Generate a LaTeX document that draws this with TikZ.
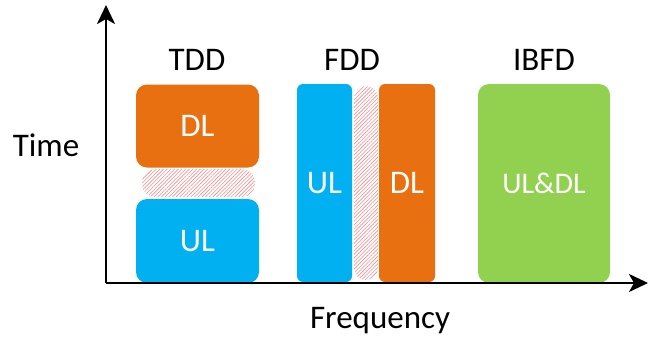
\documentclass[tikz,border=0pt]{standalone}
\usepackage{fontspec}
\setmainfont{Carlito}
\usetikzlibrary{arrows.meta,patterns.meta}
\definecolor{dlorange}{HTML}{E97010}
\definecolor{ulblue}{HTML}{00B0F0}
\definecolor{fdgreen}{HTML}{92D050}
\definecolor{guardred}{HTML}{EE8E8E}
\tikzset{
  band/.style={inner sep=0pt, text=white, font=\fontsize{33}{38}\selectfont},
  guard/.style={inner sep=0pt, fill=white, postaction={pattern={Lines[angle=45,distance=2.6pt,line width=0.6pt]}, pattern color=guardred}},
  title/.style={font=\fontsize{33}{38}\selectfont},
  axis/.style={line width=2.4pt, -{Stealth[length=19pt,width=18pt,inset=5pt]}}
}
\begin{document}
\begin{tikzpicture}[x=1pt,y=-1pt]
\useasboundingbox (0,0) rectangle (648,340);
% axes
\coordinate (o) at (106,283);
\coordinate (ytip) at (106,5);
\coordinate (xtip) at (648,283);

% TDD
\node[band, fill=dlorange, rounded corners=11pt, minimum width=123pt, minimum height=83pt] (tdl) at (197.5,126) {DL};
\node[guard, rounded corners=13pt, minimum width=113pt, minimum height=28pt] (tgp) at (198.5,183) {};
\node[band, fill=ulblue, rounded corners=11pt, minimum width=123pt, minimum height=84pt] (tul) at (197.5,241) {UL};

% FDD
\node[band, fill=ulblue, rounded corners=6pt, minimum width=55pt, minimum height=198pt] (ful) at (324.5,183) {UL};
\node[guard, rounded corners=12pt, minimum width=24pt, minimum height=194pt] (fgp) at (366,183) {};
\node[band, fill=dlorange, rounded corners=6pt, minimum width=56pt, minimum height=198pt] (fdl) at (407,183) {DL};

% IBFD
\node[band, fill=fdgreen, rounded corners=11pt, minimum width=132pt, minimum height=199pt, font=\fontsize{30}{35}\selectfont] (ib) at (544,183.5) {UL\&DL};

\draw[axis] (o) -- (ytip);
\draw[axis] (o) -- (xtip);

% labels
\node[title] (ltdd) at (197,60) {TDD};
\node[title] (lfdd) at (352,60) {FDD};
\node[title] (libfd) at (544,60) {IBFD};
\node[title] (ltime) at (46,145) {Time};
\node[title] (lfreq) at (380,321) {Frequency};
\end{tikzpicture}
\end{document}
